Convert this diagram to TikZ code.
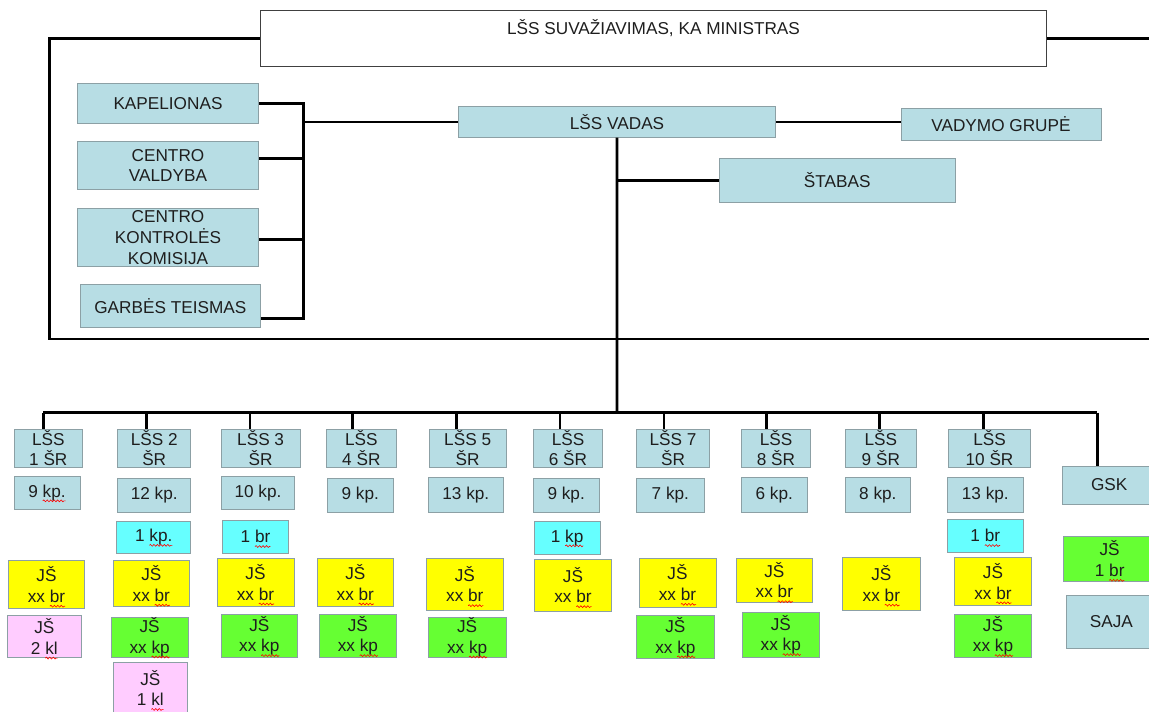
\documentclass[tikz,border=0pt]{standalone}
\usepackage{fontspec}
\setmainfont{Liberation Sans}
\usetikzlibrary{decorations.pathmorphing}
\newcommand\boxfont{\fontsize{12.9}{15.5}\selectfont}
\definecolor{lblue}{RGB}{183,221,228}
\definecolor{cyanb}{RGB}{102,255,255}
\definecolor{yel}{RGB}{255,255,0}
\definecolor{grn}{RGB}{102,255,51}
\definecolor{pnk}{RGB}{255,204,255}
\definecolor{bord}{RGB}{140,160,165}
\definecolor{txt}{RGB}{30,30,30}
\tikzset{
  box/.style={draw=bord, line width=0.6pt, inner sep=0pt, align=center, font=\boxfont, text=txt},
  lb/.style={box, fill=lblue},
  cy/.style={box, fill=cyanb},
  ye/.style={box, fill=yel},
  gr/.style={box, fill=grn},
  pk/.style={box, fill=pnk},
  conn/.style={line width=2.1pt, black},
  wave/.style={red, line width=0.45pt, decorate, decoration={snake, amplitude=0.7pt, segment length=2.6pt}},
}
% spell-check squiggle under a word
\newcommand\sw[1]{\tikz[baseline=0pt, x=1pt, y=1pt]{\node[anchor=base west, inner sep=0pt, outer sep=0pt, draw=none, fill=none, minimum width=0pt, minimum height=0pt, text=txt, font=\boxfont] (sww) at (0,0) {#1};\draw[wave, overlay] (0,-2.8) -- (sww.base east |- 0,-2.8);}}
% name, style, x1, y1, x2, y2, text
\newcommand\bx[7]{\node[#2, minimum width={(#5-#3)*0.75pt}, minimum height={(#6-#4)*0.75pt}] (#1) at ({(#3+#5)/2},{(#4+#6)/2}) {#7};}
\begin{document}
\begin{tikzpicture}[x=0.75pt, y=-0.75pt]
\useasboundingbox (0,0) rectangle (1149,711);
\fill[white] (0,0) rectangle (1149,711);
\clip (0,0) rectangle (1149,711);

% top
\bx{top}{box, draw=black!75, line width=0.9pt, fill=white}{260.7}{10.7}{1046.4}{66.7}{}
\node[anchor=base, font=\boxfont, text=txt, inner sep=0pt] (toptext) at (653.5,34) {LŠS SUVAŽIAVIMAS, KA MINISTRAS};

% left group
\bx{kap}{lb}{77.3}{83.3}{258.7}{123.3}{KAPELIONAS}
\bx{vald}{lb}{77.3}{141.7}{258.7}{189.3}{CENTRO\\VALDYBA}
\bx{komis}{lb}{77.3}{208.7}{258.7}{266.7}{CENTRO\\KONTROLĖS\\KOMISIJA}
\bx{garb}{lb}{80}{284}{260.7}{327.7}{GARBĖS TEISMAS}

\bx{vadas}{lb}{458.3}{106.7}{775.8}{137.3}{LŠS VADAS}
\bx{vadymo}{lb}{901}{108.3}{1101}{140}{VADYMO GRUPĖ}
\bx{stabas}{lb}{719.5}{158.3}{955}{202.3}{ŠTABAS}

% columns: row 1
\bx{sr1}{lb}{14.3}{429}{82.3}{467.3}{LŠS\\1 ŠR}
\bx{sr2}{lb}{117.7}{429}{190.7}{467.3}{LŠS 2\\ŠR}
\bx{sr3}{lb}{221.3}{429}{300}{467.3}{LŠS 3\\ŠR}
\bx{sr4}{lb}{326}{429}{396.7}{467.3}{LŠS\\4 ŠR}
\bx{sr5}{lb}{429.3}{429}{506}{467.3}{LŠS 5\\ŠR}
\bx{sr6}{lb}{533.3}{429}{602.7}{467.3}{LŠS\\6 ŠR}
\bx{sr7}{lb}{636.7}{429}{709.3}{467.3}{LŠS 7\\ŠR}
\bx{sr8}{lb}{741.3}{429}{810.7}{467.3}{LŠS\\8 ŠR}
\bx{sr9}{lb}{845}{429}{916.7}{467.3}{LŠS\\9 ŠR}
\bx{sr10}{lb}{948.3}{429}{1030.7}{467.3}{LŠS\\10 ŠR}
\bx{gsk}{lb}{1062.3}{466}{1156}{504}{GSK}

% row 2
\bx{kp1}{lb}{14}{476}{80}{509.3}{9 \sw{kp.}}
\bx{kp2}{lb}{117.7}{478}{190.7}{512.3}{12 kp.}
\bx{kp3}{lb}{221.3}{476}{294.7}{509.3}{10 kp.}
\bx{kp4}{lb}{327.3}{478}{393.3}{512.3}{9 kp.}
\bx{kp5}{lb}{428.3}{477.3}{503.3}{512.3}{13 kp.}
\bx{kp6}{lb}{533.3}{478}{599}{512.3}{9 kp.}
\bx{kp7}{lb}{636.7}{478}{704}{512.3}{7 kp.}
\bx{kp8}{lb}{741.3}{477.3}{807.3}{512.3}{6 kp.}
\bx{kp9}{lb}{845}{477.3}{910.7}{512.3}{8 kp.}
\bx{kp10}{lb}{947.3}{477.3}{1023.3}{512.3}{13 kp.}

% cyan
\bx{c2}{cy}{116.7}{521}{190.7}{553.3}{1 \sw{kp.}}
\bx{c3}{cy}{222.3}{520}{288.7}{553.3}{1 \sw{br}}
\bx{c6}{cy}{534.3}{521}{600}{554.3}{1 \sw{kp}}
\bx{c10}{cy}{947.3}{519}{1023.3}{552.3}{1 \sw{br}}

% yellow
\bx{y1}{ye}{8.3}{560.7}{84.7}{608.7}{JŠ\\xx \sw{br}}
\bx{y2}{ye}{113.3}{560.7}{189.3}{606.7}{JŠ\\xx \sw{br}}
\bx{y3}{ye}{217}{558.3}{294}{606.7}{JŠ\\xx \sw{br}}
\bx{y4}{ye}{317.3}{558.3}{393.3}{606.7}{JŠ\\xx \sw{br}}
\bx{y5}{ye}{426.3}{558.3}{503.3}{610}{JŠ\\xx \sw{br}}
\bx{y6}{ye}{534.3}{559.3}{611.7}{611}{JŠ\\xx \sw{br}}
\bx{y7}{ye}{639}{558.3}{716}{607.3}{JŠ\\xx \sw{br}}
\bx{y8}{ye}{736}{558.3}{812.7}{602}{JŠ\\xx \sw{br}}
\bx{y9}{ye}{842.7}{557.3}{920}{610}{JŠ\\xx \sw{br}}
\bx{y10}{ye}{954.3}{557.3}{1031.7}{605.3}{JŠ\\xx \sw{br}}

% green
\bx{g2}{gr}{111}{617}{188.3}{657.3}{JŠ\\xx \sw{kp}}
\bx{g3}{gr}{221.3}{614.3}{297.3}{657.3}{JŠ\\xx \sw{kp}}
\bx{g4}{gr}{319}{614.3}{396.7}{657.3}{JŠ\\xx \sw{kp}}
\bx{g5}{gr}{428.3}{617}{506}{657.3}{JŠ\\xx \sw{kp}}
\bx{g7}{gr}{636.7}{615.7}{714}{658.3}{JŠ\\xx \sw{kp}}
\bx{g8}{gr}{742.3}{612.3}{819.3}{657.3}{JŠ\\xx \sw{kp}}
\bx{g10}{gr}{954.3}{614.3}{1031.7}{657.3}{JŠ\\xx \sw{kp}}
\bx{gj}{gr}{1063.3}{536}{1156}{581.7}{JŠ\\1 \sw{br}}

% pink
\bx{p1}{pk}{7.3}{615.7}{81.3}{657.3}{JŠ\\2 \sw{kl}}
\bx{p2}{pk}{113.3}{662.7}{187.3}{713}{JŠ\\1 \sw{kl}}

\bx{saja}{lb}{1066.7}{595}{1156}{648.3}{SAJA}

% frame lines
\coordinate (fl) at (49.3,339);
\coordinate (fr) at (1149,339);
\coordinate (tr) at (1149,38.3);
\draw[conn] (top.west) -| (fl) -- (fr);
\draw[conn] (top.east) -- (top.east -| tr);

% bracket
\coordinate (bk) at (303.3,122);
\draw[conn] (kap.east) -| (bk) |- ([yshift=-9.4pt]garb.east);
\draw[conn] ([yshift=5.4pt]vald.east) -| (bk);
\draw[conn] ([yshift=-1.5pt]komis.east) -| (bk);
\draw[conn] (bk) -- (vadas.west);

% vadas links
\draw[conn] (vadas.east) -- (vadas.east -| vadymo.west);
\coordinate (j) at (617,412.7);
\draw[conn] (vadas.south) -- (j);
\draw[conn] (stabas.west) -- (stabas.west -| vadas.south);

% bus
\coordinate (t1) at (43.3,412.7);
\coordinate (t2) at (146.7,412.7);
\coordinate (t3) at (250,412.7);
\coordinate (t4) at (352.7,412.7);
\coordinate (t5) at (456.7,412.7);
\coordinate (t6) at (560,412.7);
\coordinate (t7) at (664,412.7);
\coordinate (t8) at (766.7,412.7);
\coordinate (t9) at (879.3,412.7);
\coordinate (t10) at (983.3,412.7);
\coordinate (t11) at (1097.3,412.7);
\draw[conn] (t1) -- (t11);
\foreach \i in {1,...,10} {\draw[conn] (t\i) -- (t\i |- sr\i.north);}
\draw[conn] (t11) -- (t11 |- gsk.north);
\end{tikzpicture}
\end{document}
